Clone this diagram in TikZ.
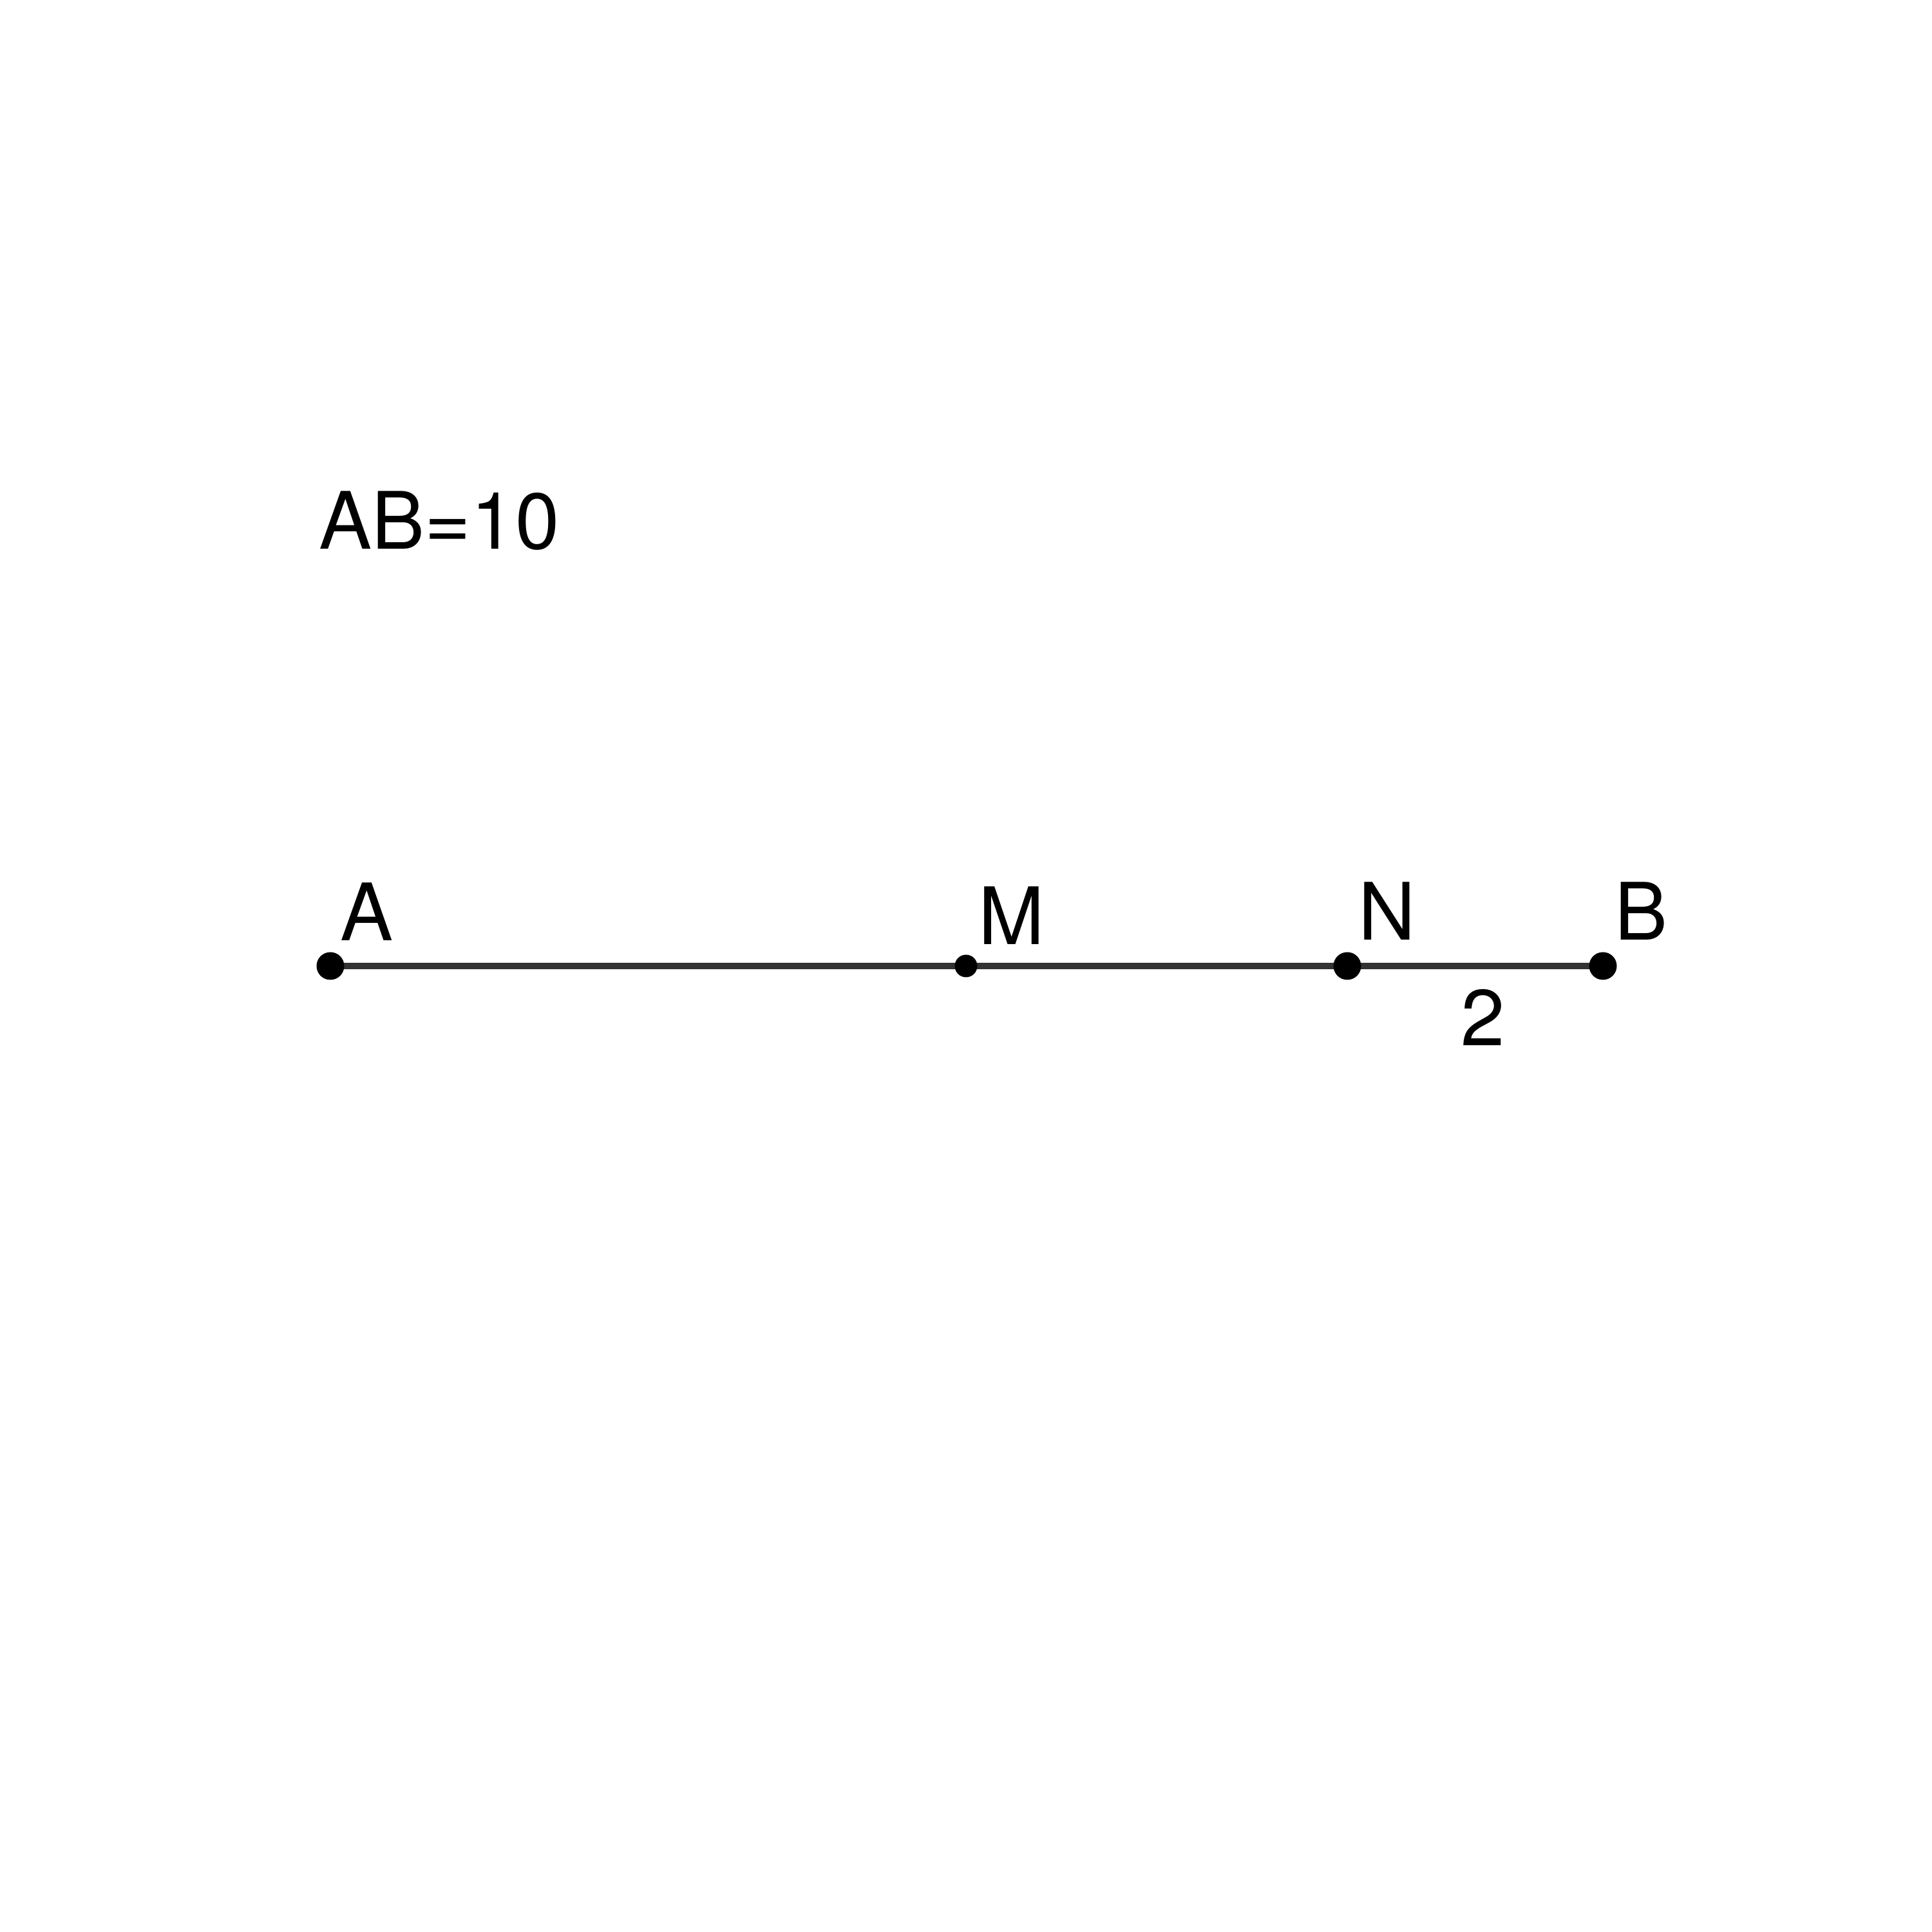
\documentclass[tikz,border=0pt]{standalone}
\usepackage{fontspec}
\setmainfont{TeX Gyre Heros}
\usetikzlibrary{backgrounds}
\definecolor{segline}{HTML}{333333}
\tikzset{
  dot/.style={
    shape = circle,
    draw = none,
    fill = black,
    inner sep = 0,
    minimum size = 0.43cm
  },
  smalldot/.style={
    dot,
    minimum size = 0.35cm
  },
  seg/.style={
    line width = 0.1cm,
    draw = segline
  },
  tag/.style={
    anchor = base,
    inner sep = 0,
    font = \fontsize{35}{40}\selectfont
  }
}

\begin{document}
\begin{tikzpicture}
            \useasboundingbox (0,0) rectangle (30,30);
            \node[dot] (A) at (5.13,15) {};
            \node[smalldot] (M) at (15.00,15) {};
            \node[dot] (N) at (20.92,15) {};
            \node[dot] (B) at (24.89,15) {};
            \begin{scope}[on background layer]
              \draw[seg] (A.center)--(M.center)--(N.center)--(B.center);
            \end{scope}
            \node[tag] (labA) at ([shift={(0.57,0.39)}]A.center) {A};
            \node[tag] (labM) at ([shift={(0.71,0.33)}]M.center) {M};
            \node[tag] (labN) at ([shift={(0.62,0.40)}]N.center) {N};
            \node[tag] (labB) at ([shift={(0.59,0.40)}]B.center) {B};
            \node[tag] (len) at (23.03,13.76) {2};
            \node[tag, anchor=base west] (given) at (4.95,21.47) {AB=10};
        \end{tikzpicture}
\end{document}
